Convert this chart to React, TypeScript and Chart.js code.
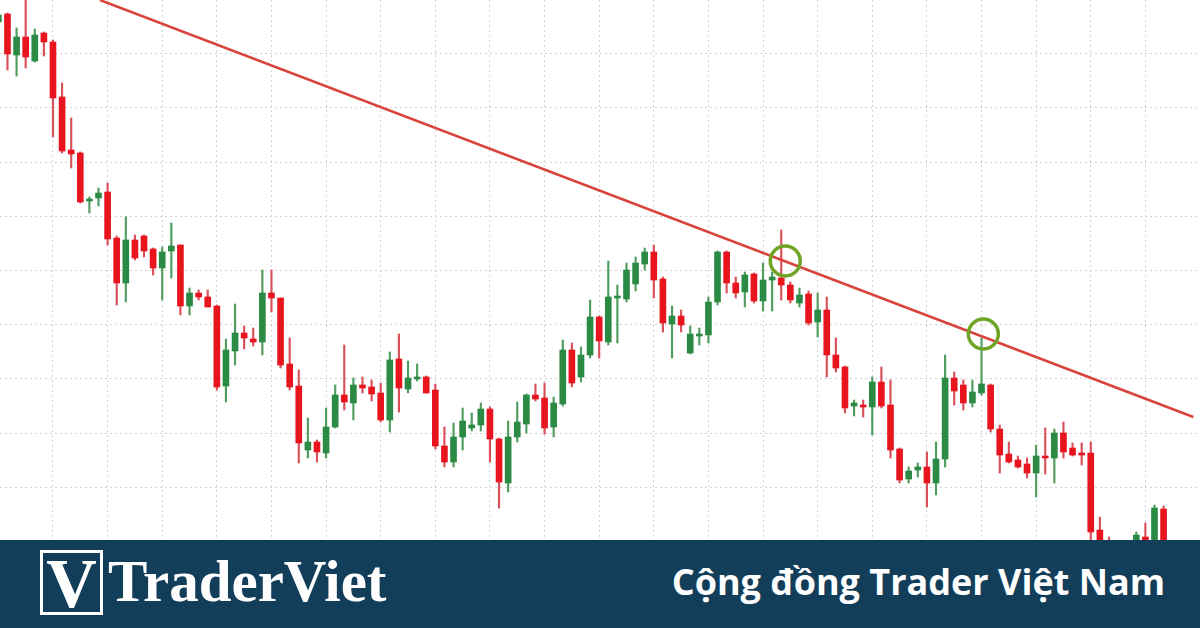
import React, { useEffect, useRef } from "react";
import { Chart, registerables } from "chart.js";

Chart.register(...registerables);

// Candle index -1 .. 127 (index -1 is the partially visible left-edge candle)
const firstIndex = -1;
const opens = [
  518, 526, 485, 503, 479, 507, 498, 443, 390, 387, 339, 342, 348, 302, 257, 300, 304, 291, 272, 289,
  295, 234, 247, 243, 234, 154, 189, 207, 201, 198, 247, 242, 176, 154, 90, 98, 87, 113, 145, 137,
  155, 153, 147, 120, 181, 151, 161, 163, 150, 94, 78, 103, 112, 115, 131, 101, 57, 103, 116, 145,
  142, 113, 136, 190, 163, 185, 223, 198, 242, 241, 256, 276, 288, 261, 216, 224, 187, 204, 205, 238,
  288, 257, 248, 266, 239, 260, 262, 255, 237, 246, 218, 230, 185, 173, 134, 135, 133, 158, 135, 91,
  61, 70, 73, 57, 81, 162, 155, 137, 147, 155, 111, 86, 80, 76, 67, 84, 82, 107, 92, 87,
  87, 10, -35, -60, -45, -20, 3, -20, 31,
];
const highs = [
  528, 527, 512, 545, 511, 508, 500, 457, 422, 388, 343, 352, 357, 304, 323, 305, 305, 292, 293, 317,
  295, 252, 250, 250, 235, 201, 236, 214, 212, 270, 270, 242, 202, 170, 122, 100, 132, 155, 195, 162,
  163, 160, 157, 188, 206, 179, 176, 164, 156, 113, 117, 132, 127, 137, 133, 102, 119, 138, 146, 156,
  157, 143, 200, 197, 193, 240, 224, 279, 255, 277, 283, 292, 295, 263, 234, 230, 214, 212, 243, 289,
  289, 263, 268, 267, 277, 268, 310, 258, 252, 249, 247, 243, 202, 174, 140, 140, 163, 173, 160, 92,
  73, 77, 88, 98, 185, 168, 160, 160, 202, 156, 115, 98, 84, 82, 95, 112, 111, 118, 97, 97,
  98, 23, 3, -30, -10, 8, 17, 35, 34,
];
const lows = [
  516, 470, 464, 472, 478, 484, 403, 387, 372, 337, 327, 334, 295, 235, 238, 280, 283, 265, 240, 262,
  225, 225, 240, 233, 150, 138, 175, 191, 194, 185, 228, 172, 150, 77, 82, 78, 82, 112, 130, 120,
  147, 139, 118, 108, 128, 147, 159, 147, 91, 73, 73, 90, 109, 109, 78, 32, 48, 98, 107, 139,
  106, 103, 134, 153, 158, 182, 182, 195, 197, 238, 249, 270, 242, 208, 182, 208, 186, 195, 197, 235,
  247, 242, 233, 237, 229, 229, 240, 237, 233, 215, 203, 163, 168, 127, 124, 123, 105, 132, 82, 57,
  57, 63, 33, 45, 73, 135, 130, 133, 145, 108, 67, 77, 72, 62, 43, 66, 57, 82, 84, 75,
  -5, -50, -60, -70, -55, -30, -20, -30, -40,
];
const closes = [
  525, 486, 503, 483, 505, 498, 442, 389, 386, 338, 341, 347, 301, 257, 300, 282, 289, 272, 288, 294,
  234, 247, 243, 233, 153, 190, 207, 202, 198, 247, 242, 175, 153, 97, 98, 88, 113, 145, 138, 155,
  152, 146, 120, 180, 152, 162, 163, 147, 94, 78, 103, 119, 115, 131, 101, 58, 103, 118, 145, 141,
  112, 137, 190, 157, 185, 223, 199, 243, 244, 270, 277, 288, 260, 217, 224, 215, 206, 206, 238, 288,
  257, 247, 265, 239, 260, 263, 255, 240, 245, 217, 230, 185, 172, 132, 137, 133, 158, 134, 90, 60,
  69, 73, 57, 81, 162, 149, 137, 148, 156, 111, 85, 78, 73, 67, 84, 82, 107, 88, 85, 85,
  8, -35, -50, -45, -20, 5, -15, 32, -30,
];

// Trend line (two anchor points) and the two touch markers
const trendX = [10.16, 130.27];
const trendY = [540, 123];
const touchX = [85.44, 107.2];
const touchY = [279, 206];

// Grid levels (no labels shown in the picture)
const xGridLevels = [5, 11, 17, 23, 29, 35, 41, 47, 53, 59, 65, 71, 77, 83, 89, 95, 101, 107, 113, 119, 125];
const yGridLevels = [53, 107, 162, 216, 270, 324, 378, 432, 486];

const UP = "#2b8a43";
const DOWN = "#e8141e";
const UP_WICK = "#4f9d60";
const DOWN_WICK = "#d9505b";

export default function App() {
  const canvasRef = useRef<HTMLCanvasElement | null>(null);

  useEffect(() => {
    const canvas = canvasRef.current;
    if (!canvas) return;
    const xs = opens.map((_, k) => k + firstIndex);
    const isUp = opens.map((o, k) => closes[k] >= o);

    const gridCommon = {
      color: "#d2d2d2",
      lineWidth: 1,
      drawTicks: false,
    };

    const chart = new Chart(canvas, {
      type: "bar",
      data: {
        datasets: [
          {
            type: "line",
            label: "touch",
            data: touchX.map((x, k) => ({ x, y: touchY[k] })),
            showLine: false,
            pointRadius: 15,
            pointBorderWidth: 3.5,
            pointBorderColor: "#6fa525",
            pointBackgroundColor: "rgba(0,0,0,0)",
            order: 0,
          },
          {
            type: "line",
            label: "trend",
            data: trendX.map((x, k) => ({ x, y: trendY[k] })),
            borderColor: "#d8443b",
            borderWidth: 2.5,
            pointRadius: 0,
            order: 1,
          },
          {
            type: "bar",
            label: "body",
            data: xs.map((x, k) => ({ x, y: [opens[k], closes[k]] })),
            backgroundColor: isUp.map((u) => (u ? UP : DOWN)),
            barThickness: 6,
            grouped: false,
            order: 2,
          },
          {
            type: "bar",
            label: "wick",
            data: xs.map((x, k) => ({ x, y: [lows[k], highs[k]] })),
            backgroundColor: isUp.map((u) => (u ? UP_WICK : DOWN_WICK)),
            barThickness: 1.5,
            grouped: false,
            order: 3,
          },
        ] as any,
      },
      options: {
        animation: false,
        responsive: false,
        layout: { padding: 0, autoPadding: false },
        plugins: { legend: { display: false }, tooltip: { enabled: false } },
        scales: {
          x: {
            type: "linear",
            min: -0.82,
            max: 131.0,
            offset: false,
            grid: { ...gridCommon, offset: false },
            border: { display: false, dash: [2, 3] },
            ticks: { display: false },
            afterBuildTicks: (axis: any) => {
              axis.ticks = xGridLevels.map((v) => ({ value: v }));
            },
          },
          y: {
            type: "linear",
            min: 0,
            max: 540,
            grid: { ...gridCommon },
            border: { display: false, dash: [2, 3] },
            ticks: { display: false },
            afterBuildTicks: (axis: any) => {
              axis.ticks = yGridLevels.map((v) => ({ value: v }));
            },
          },
        },
      } as any,
    });
    return () => chart.destroy();
  }, []);

  return (
    <div
      style={{
        position: "absolute",
        left: 0,
        top: 0,
        width: 1200,
        height: 628,
        background: "#ffffff",
        overflow: "hidden",
      }}
    >
      <canvas ref={canvasRef} width={1200} height={540} style={{ display: "block" }} />
      <div
        style={{
          position: "absolute",
          left: 0,
          top: 540,
          width: 1200,
          height: 88,
          background: "#123e5a",
        }}
      >
        <div
          style={{
            position: "absolute",
            left: 40,
            top: 10,
            width: 57,
            height: 59,
            border: "3px solid #ffffff",
            boxSizing: "content-box",
            overflow: "hidden",
          }}
        >
          <div
            style={{
              position: "absolute",
              left: 0,
              top: -4,
              width: 57,
              textAlign: "center",
              fontFamily: "'Liberation Serif', serif",
              fontWeight: 700,
              fontSize: 70,
              lineHeight: "70px",
              color: "#ffffff",
            }}
          >
            V
          </div>
        </div>
        <div
          style={{
            position: "absolute",
            left: 108,
            top: 12,
            fontFamily: "'Liberation Serif', serif",
            fontWeight: 700,
            fontSize: 59,
            lineHeight: "58px",
            color: "#ffffff",
            whiteSpace: "nowrap",
          }}
        >
          TraderViet
        </div>
        <div
          style={{
            position: "absolute",
            right: 35,
            top: 22,
            fontFamily: "'Open Sans', sans-serif",
            fontWeight: 700,
            fontSize: 36,
            lineHeight: "40px",
            color: "#ffffff",
            whiteSpace: "nowrap",
          }}
        >
          Cộng đồng Trader Việt Nam
        </div>
      </div>
    </div>
  );
}
